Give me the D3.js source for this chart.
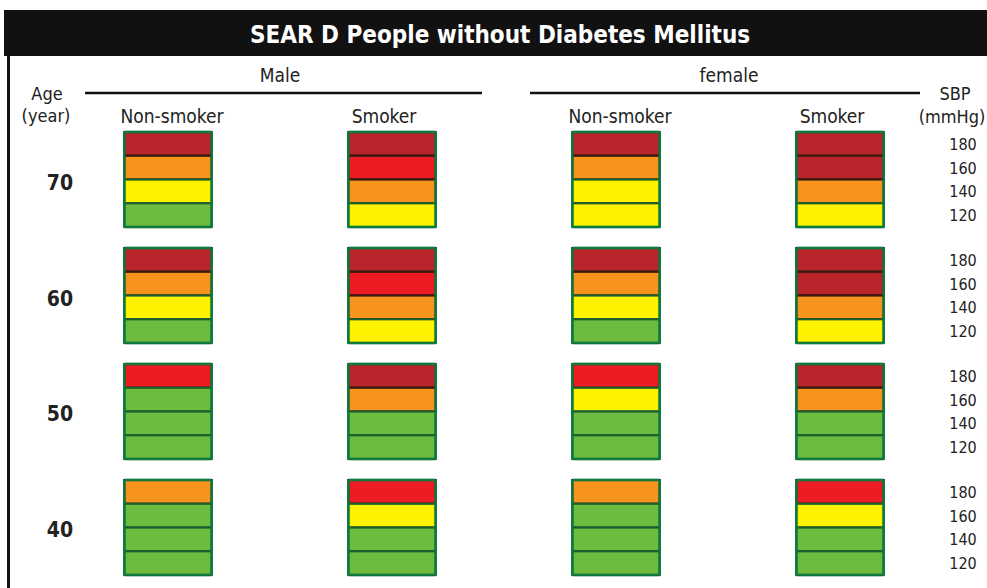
<!DOCTYPE html>
<html><head><meta charset="utf-8">
<script src="https://cdn.jsdelivr.net/npm/d3@7"></script>
<style>
html,body{margin:0;padding:0;background:#fff;}
text{font-family:"DejaVu Sans Condensed","DejaVu Sans",sans-serif;}
</style></head>
<body><svg id="c" width="987" height="588"></svg>
<script>
const title = "SEAR D People without Diabetes Mellitus";
const sexes = ["Male", "female"];
const groups = ["Male Non-smoker", "Male Smoker", "female Non-smoker", "female Smoker"];
const groupLabels = ["Non-smoker", "Smoker", "Non-smoker", "Smoker"];
const ages = ["70", "60", "50", "40"];
const sbp = ["180", "160", "140", "120"];
// risk level per cell (1 green <10%, 2 yellow, 3 orange, 4 red, 5 dark red)
const age70 = [[5,3,2,1],[5,4,3,2],[5,3,2,2],[5,5,3,2]];
const age60 = [[5,3,2,1],[5,4,3,2],[5,3,2,1],[5,5,3,2]];
const age50 = [[4,1,1,1],[5,3,1,1],[4,2,1,1],[5,3,1,1]];
const age40 = [[3,1,1,1],[4,2,1,1],[3,1,1,1],[4,2,1,1]];
const riskByAge = {"70": age70, "60": age60, "50": age50, "40": age40};
const riskLevels = [1,2,3,4,5];
const riskColors = ["#6dbb3f", "#fff200", "#f7941d", "#ed1c24", "#b9252a"];

const svg = d3.select("#c");
const color = d3.scaleOrdinal().domain(riskLevels).range(riskColors);
const x = d3.scaleBand().domain(groups).range([56, 952]).paddingInner(0.61).paddingOuter(0.305);
const yAge = d3.scaleBand().domain(ages).range([132, 575]).paddingInner(0.181).paddingOuter(0);
const ySbp = d3.scaleBand().domain(sbp).range([0, yAge.bandwidth()]);

// title bar
svg.append("rect").attr("x", 4).attr("y", 10).attr("width", 990).attr("height", 46).attr("fill", "#111");
svg.append("text").attr("x", 500).attr("y", 43).attr("text-anchor", "middle")
  .attr("fill", "#fff").attr("font-weight", "bold").attr("font-size", 24).text(title);
// left border
svg.append("rect").attr("x", 7).attr("y", 55).attr("width", 3).attr("height", 540).attr("fill", "#111");

// sex headers
const sexSpan = {"Male": [85, 482], "female": [530, 920]};
const sexCenter = {"Male": 280, "female": 729};
sexes.forEach(s => {
  svg.append("line").attr("x1", sexSpan[s][0]).attr("x2", sexSpan[s][1]).attr("y1", 93).attr("y2", 93)
    .attr("stroke", "#111").attr("stroke-width", 2.5);
  svg.append("text").attr("x", sexCenter[s]).attr("y", 82).attr("text-anchor", "middle")
    .attr("font-size", 19).attr("fill", "#222").text(s);
});
svg.append("text").attr("x", 47).attr("y", 100).attr("text-anchor", "middle").attr("font-size", 18).attr("fill", "#222").text("Age");
svg.append("text").attr("x", 46).attr("y", 122).attr("text-anchor", "middle").attr("font-size", 18).attr("fill", "#222").text("(year)");
svg.append("text").attr("x", 955).attr("y", 100).attr("text-anchor", "middle").attr("font-size", 18).attr("fill", "#222").text("SBP");
svg.append("text").attr("x", 952).attr("y", 123).attr("text-anchor", "middle").attr("font-size", 18).attr("fill", "#222").text("(mmHg)");

groups.forEach((g, i) => {
  svg.append("text").attr("x", x(g) + x.bandwidth() / 2 + (i % 2 === 0 ? 4 : -8)).attr("y", 123)
    .attr("text-anchor", "middle").attr("font-size", 19).attr("fill", "#222").text(groupLabels[i]);
});

// age rows
ages.forEach(a => {
  const gy = yAge(a);
  svg.append("text").attr("x", 60).attr("y", gy + yAge.bandwidth() / 2 + 10).attr("text-anchor", "middle")
    .attr("font-size", 21).attr("font-weight", "bold").attr("fill", "#222").text(a);
  groups.forEach((g, gi) => {
    const cells = riskByAge[a][gi];
    const blk = svg.append("g").attr("transform", `translate(${x(g)},${gy})`);
    blk.selectAll("rect.cell").data(sbp).join("rect").attr("class", "cell")
      .attr("x", 0).attr("y", d => ySbp(d)).attr("width", x.bandwidth()).attr("height", ySbp.bandwidth())
      .attr("fill", (d, k) => color(cells[k]))
      .attr("stroke", (d, k) => cells[k] >= 3 ? "#3a1a10" : "#1d5e2c").attr("stroke-width", 2.2);
    blk.append("rect").attr("x", 0).attr("y", 0).attr("width", x.bandwidth()).attr("height", yAge.bandwidth())
      .attr("fill", "none").attr("stroke", "#0d7a3e").attr("stroke-width", 2.5).attr("rx", 1.5);
  });
  // SBP labels
  sbp.forEach(s => {
    svg.append("text").attr("x", 963).attr("y", gy + ySbp(s) + ySbp.bandwidth() / 2 + 6)
      .attr("text-anchor", "middle").attr("font-size", 16).attr("fill", "#222").text(s);
  });
});
</script></body></html>
